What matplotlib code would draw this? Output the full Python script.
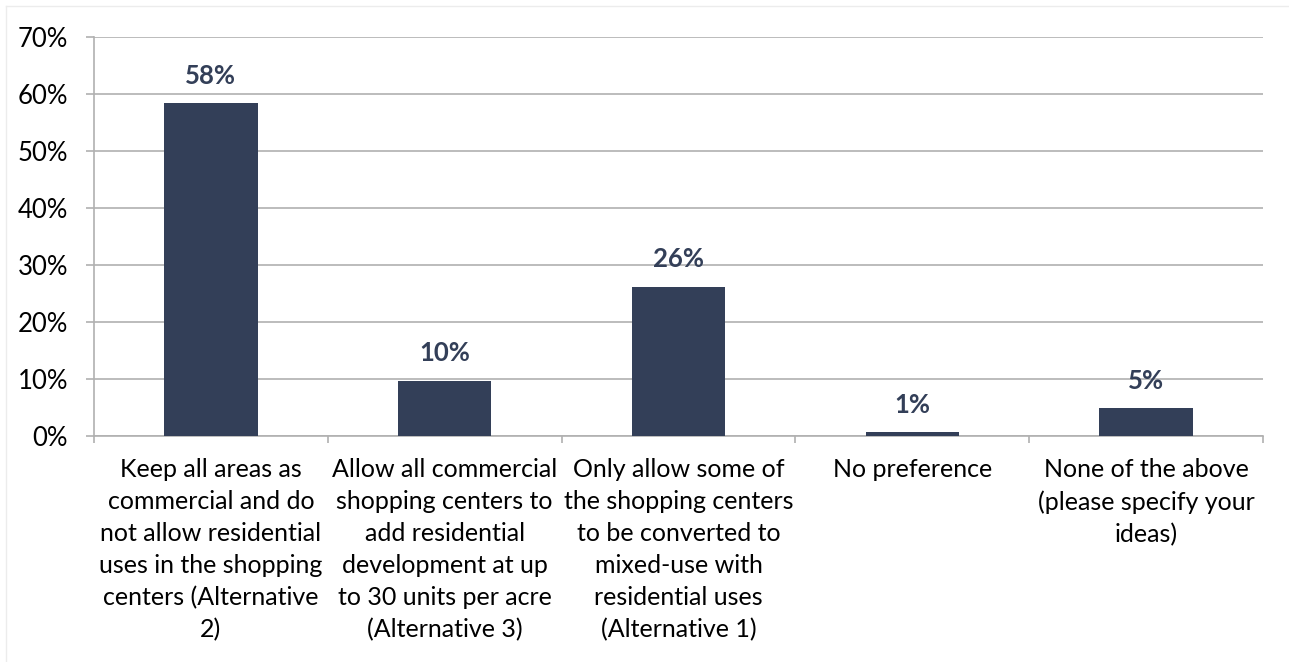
import numpy as np
import matplotlib.pyplot as plt
from matplotlib.ticker import FixedLocator

categories = [
    "Keep all areas as\ncommercial and do\nnot allow residential\nuses in the shopping\ncenters (Alternative\n2)",
    "Allow all commercial\nshopping centers to\nadd residential\ndevelopment at up\nto 30 units per acre\n(Alternative 3)",
    "Only allow some of\nthe shopping centers\nto be converted to\nmixed-use with\nresidential uses\n(Alternative 1)",
    "No preference",
    "None of the above\n(please specify your\nideas)",
]
values = [58.4, 9.7, 26.2, 0.7, 4.9]
labels = ["58%", "10%", "26%", "1%", "5%"]
yticks = [0, 10, 20, 30, 40, 50, 60, 70]

bar_color = "#333f58"
grid_color = "#b0b0b0"
plt.rcParams['font.family'] = ['Lato', 'DejaVu Sans']

fig = plt.figure(figsize=(12.89, 6.62), dpi=100)
ax = fig.add_axes([94/1289, 1-436/662, (1263-94)/1289, (436-37)/662])

x = np.arange(len(categories))
ax.bar(x, values, width=0.4, color=bar_color, zorder=3)
for xi, v, lab in zip(x, values, labels):
    ax.annotate(lab, (xi, v), xytext=(0, 11), textcoords='offset points',
                ha='center', va='bottom', fontsize=18.5, fontweight='bold',
                color=bar_color)

ax.set_xlim(-0.5, len(categories) - 0.5)
ax.set_ylim(0, 70)
ax.set_yticks(yticks)
ax.set_yticklabels([f"{t}%" for t in yticks], fontsize=18.5)
ax.yaxis.grid(True, color=grid_color, linewidth=1.2, zorder=0)
ax.tick_params(axis='y', length=5.8, color=grid_color, width=1.2, pad=13)

ax.set_xticks(x)
ax.set_xticklabels(categories, fontsize=18, linespacing=1.47)
ax.tick_params(axis='x', which='major', length=0, pad=16)
ax.xaxis.set_minor_locator(FixedLocator(np.arange(-0.5, len(categories), 1.0)))
ax.tick_params(axis='x', which='minor', length=5, color=grid_color, width=1.2)

for s in ['top', 'right']:
    ax.spines[s].set_visible(False)
for s in ['left', 'bottom']:
    ax.spines[s].set_color(grid_color)
    ax.spines[s].set_linewidth(1.2)

# faint chart-area border (top and left edge)
fig.add_artist(plt.Line2D([6/1289, 1], [1-6/662, 1-6/662], color='#ececec', linewidth=1))
fig.add_artist(plt.Line2D([6/1289, 6/1289], [0, 1-6/662], color='#ececec', linewidth=1))

fig.savefig('out.png', dpi=100)
